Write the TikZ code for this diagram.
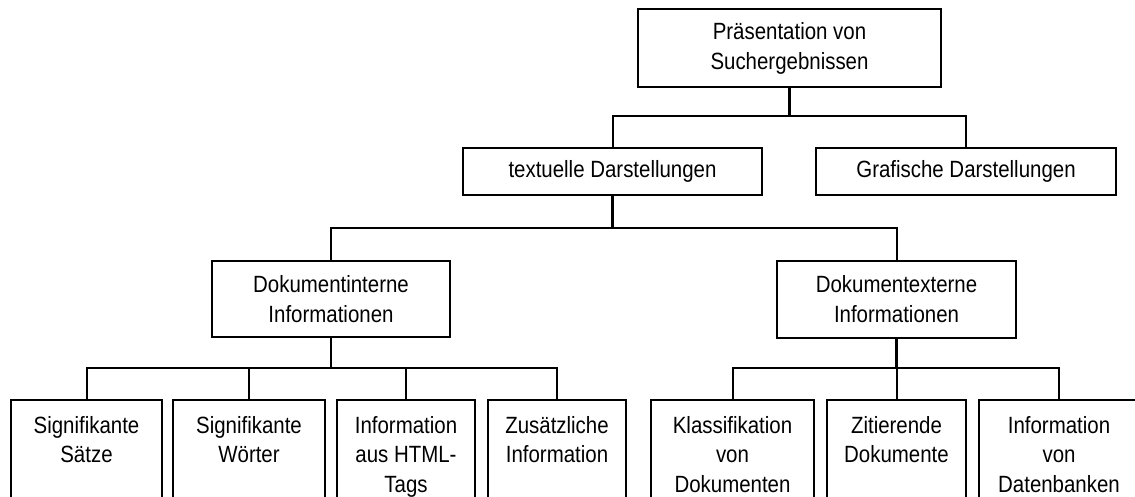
\documentclass[tikz,border=0pt]{standalone}
\usepackage{fontspec}
\setmainfont{Liberation Sans}[FakeStretch=0.87]
\begin{document}
\begin{tikzpicture}[x=1pt,y=-1pt,
  every node/.style={font=\fontsize{23.5}{30}\selectfont},
  box/.style={draw, line width=2pt, align=center, inner sep=0pt,
              minimum width=#1},
  leaf/.style={draw, line width=2pt, inner sep=0pt, anchor=north,
               minimum width=#1, minimum height=130pt},
  stem/.style={line width=2.8pt},
  branch/.style={line width=2pt}]
\useasboundingbox (0,0) rectangle (1135,497);
\clip (0,0) rectangle (1135,497);
\newcommand{\leaftext}[2]{\parbox[c][130pt][t]{#1pt}{\centering
  \baselineskip=29.5pt\rule{0pt}{33pt}#2\par}}

% upper levels
\node[box=303, minimum height=78] (root) at (789.5,48) {Präsentation von\\Suchergebnissen};
\node[box=299, minimum height=47] (text) at (612.5,171.5) {textuelle Darstellungen};
\node[box=300, minimum height=47] (graf) at (966,171.5) {Grafische Darstellungen};
\node[box=238, minimum height=76] (dint) at (331,299) {Dokumentinterne\\Informationen};
\node[box=239, minimum height=77] (dext) at (896.5,299.5) {Dokumentexterne\\Informationen};

% leaves
\node[leaf=151] (l1) at (86.5,399) {\leaftext{151}{Signifikante\\Sätze}};
\node[leaf=152] (l2) at (249,399) {\leaftext{152}{Signifikante\\Wörter}};
\node[leaf=138] (l3) at (406,399) {\leaftext{138}{Information\\aus HTML-\\Tags}};
\node[leaf=138] (l4) at (557,399) {\leaftext{138}{Zusätzliche\\Information}};
\node[leaf=163] (r1) at (732.5,399) {\leaftext{163}{Klassifikation\\von\\Dokumenten}};
\node[leaf=139] (r2) at (896.5,399) {\leaftext{139}{Zitierende\\Dokumente}};
\node[leaf=160] (r3) at (1059,399) {\leaftext{160}{Information\\von\\Datenbanken}};

% junctions on the horizontal bars
\coordinate (b0) at (root.south |- 0,116);
\coordinate (b1) at (text.south |- 0,228);
\coordinate (b2) at (dint.south |- 0,368);
\coordinate (b3) at (dext.south |- 0,368);

% connectors
\draw[stem] (root.south) -- (b0);
\draw[branch] (b0) -| (text.north);
\draw[branch] (b0) -| (graf.north);

\draw[stem] (text.south) -- (b1);
\draw[branch] (b1) -| (dint.north);
\draw[branch] (b1) -| (dext.north);

\draw[stem] (dint.south) -- (b2);
\draw[branch] (b2) -| (l1.north);
\draw[branch] (b2) -| (l2.north);
\draw[branch] (b2) -| (l3.north);
\draw[branch] (b2) -| (l4.north);

\draw[stem] (dext.south) -- (b3);
\draw[branch] (b3) -| (r1.north);
\draw[branch] (b3) -- (r2.north);
\draw[branch] (b3) -| (r3.north);
\end{tikzpicture}
\end{document}
